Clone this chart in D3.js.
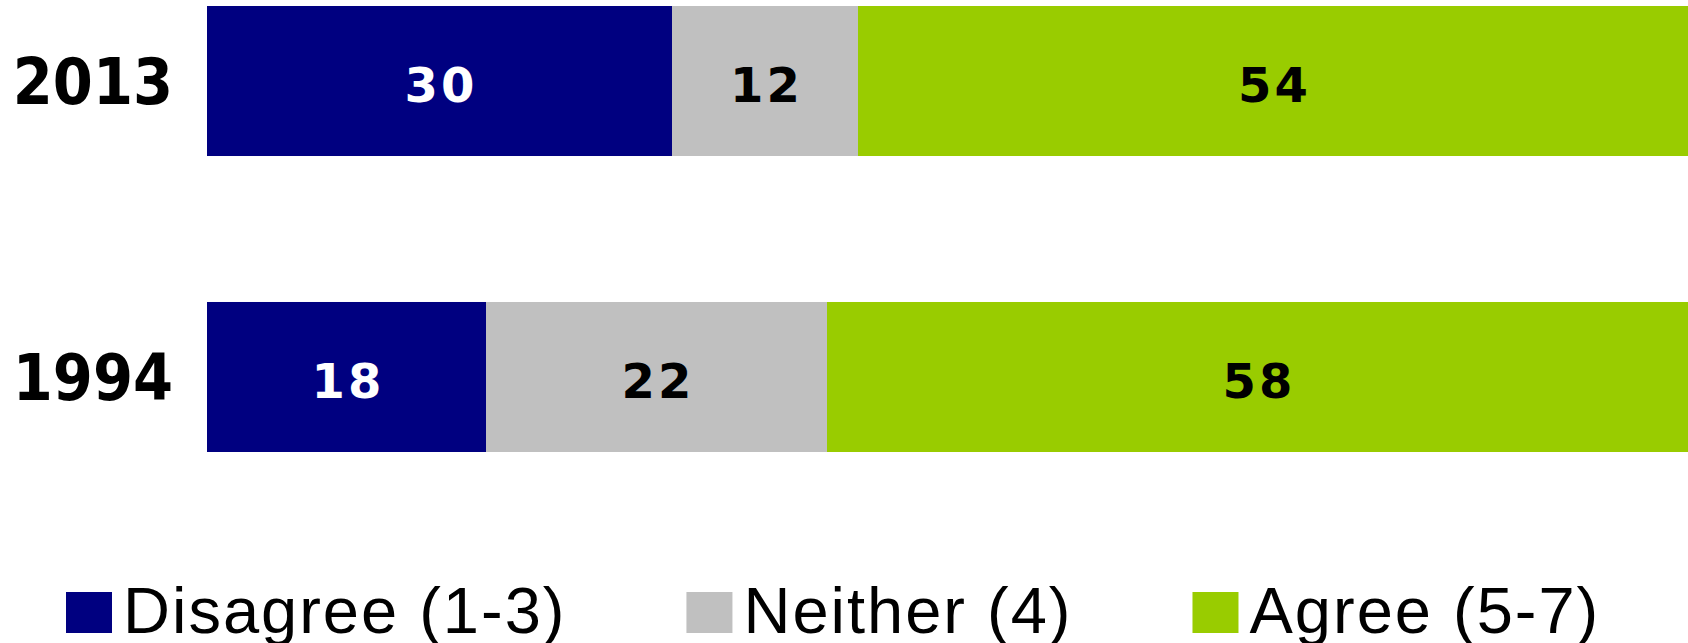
<!DOCTYPE html>
<html>
<head>
<meta charset="utf-8">
<script src="https://cdn.jsdelivr.net/npm/d3@7"></script>
<style>
  html, body { margin: 0; padding: 0; background: #ffffff; overflow: hidden; }
  svg { display: block; }
</style>
</head>
<body>
<svg id="chart" width="1688" height="643"></svg>
<script>
// ---- data ----
const years = ["2013", "1994"];
const seriesNames = ["Disagree (1-3)", "Neither (4)", "Agree (5-7)"];
const disagree = [30, 18];
const neither = [12, 22];
const agree = [54, 58];
const seriesColors = ["#000080", "#C0C0C0", "#99CC00"];
const labelColors = ["#ffffff", "#000000", "#000000"];

// ---- layout ----
const W = 1688, H = 643;
const svg = d3.select("#chart");

const rows = years.map((y, i) => ({ year: y, Disagree: disagree[i], Neither: neither[i], Agree: agree[i] }));
const keys = ["Disagree", "Neither", "Agree"];
const stack = d3.stack().keys(keys)(rows);

const x = d3.scaleLinear().domain([0, 100]).range([207, 207 + 1550]);
const y = d3.scaleBand().domain(years).range([6, 452]).paddingInner(0.4932).paddingOuter(0);

// bars
const layers = svg.append("g").selectAll("g").data(stack).join("g")
  .attr("fill", (d, i) => seriesColors[i]);

layers.selectAll("rect").data(d => d).join("rect")
  .attr("x", d => x(d[0]))
  .attr("y", d => y(d.data.year))
  .attr("width", d => x(d[1]) - x(d[0]))
  .attr("height", y.bandwidth());

// value labels (centered in the visible part of each segment)
stack.forEach((layer, li) => {
  svg.append("g").selectAll("text").data(layer).join("text")
    .attr("x", d => (x(d[0]) + Math.min(x(d[1]), W)) / 2 + 1.5)
    .attr("y", d => y(d.data.year) + y.bandwidth() / 2 + 21)
    .attr("text-anchor", "middle")
    .attr("font-family", "'DejaVu Sans', Verdana, sans-serif")
    .attr("font-weight", "bold")
    .attr("font-size", 48)
    .attr("letter-spacing", 3)
    .attr("fill", labelColors[li])
    .text(d => d.data[layer.key]);
});

// year axis labels
const yAxis = d3.axisLeft(y).tickSize(0).tickPadding(0);
const yg = svg.append("g").attr("transform", "translate(173,0)").call(yAxis);
yg.select(".domain").remove();
yg.selectAll("text")
  .attr("font-family", "'DejaVu Sans Condensed', 'DejaVu Sans', sans-serif")
  .attr("font-stretch", "condensed")
  .attr("font-weight", "bold")
  .attr("font-size", 64)
  .attr("fill", "#000")
  .attr("dy", null)
  .attr("y", 23);

// legend
const legend = svg.append("g");
let lx = 66;
seriesNames.forEach((name, i) => {
  legend.append("rect")
    .attr("x", lx).attr("y", 592)
    .attr("width", 46).attr("height", 41)
    .attr("fill", seriesColors[i]);
  const t = legend.append("text")
    .attr("x", lx + 46 + 11).attr("y", 633)
    .attr("font-family", "'Liberation Sans', Arial, sans-serif")
    .attr("font-size", 65)
    .attr("letter-spacing", 2)
    .attr("fill", "#000")
    .text(name);
  const tw = t.node().getComputedTextLength();
  lx = lx + 46 + 11 + tw + 120;
});
</script>
</body>
</html>
